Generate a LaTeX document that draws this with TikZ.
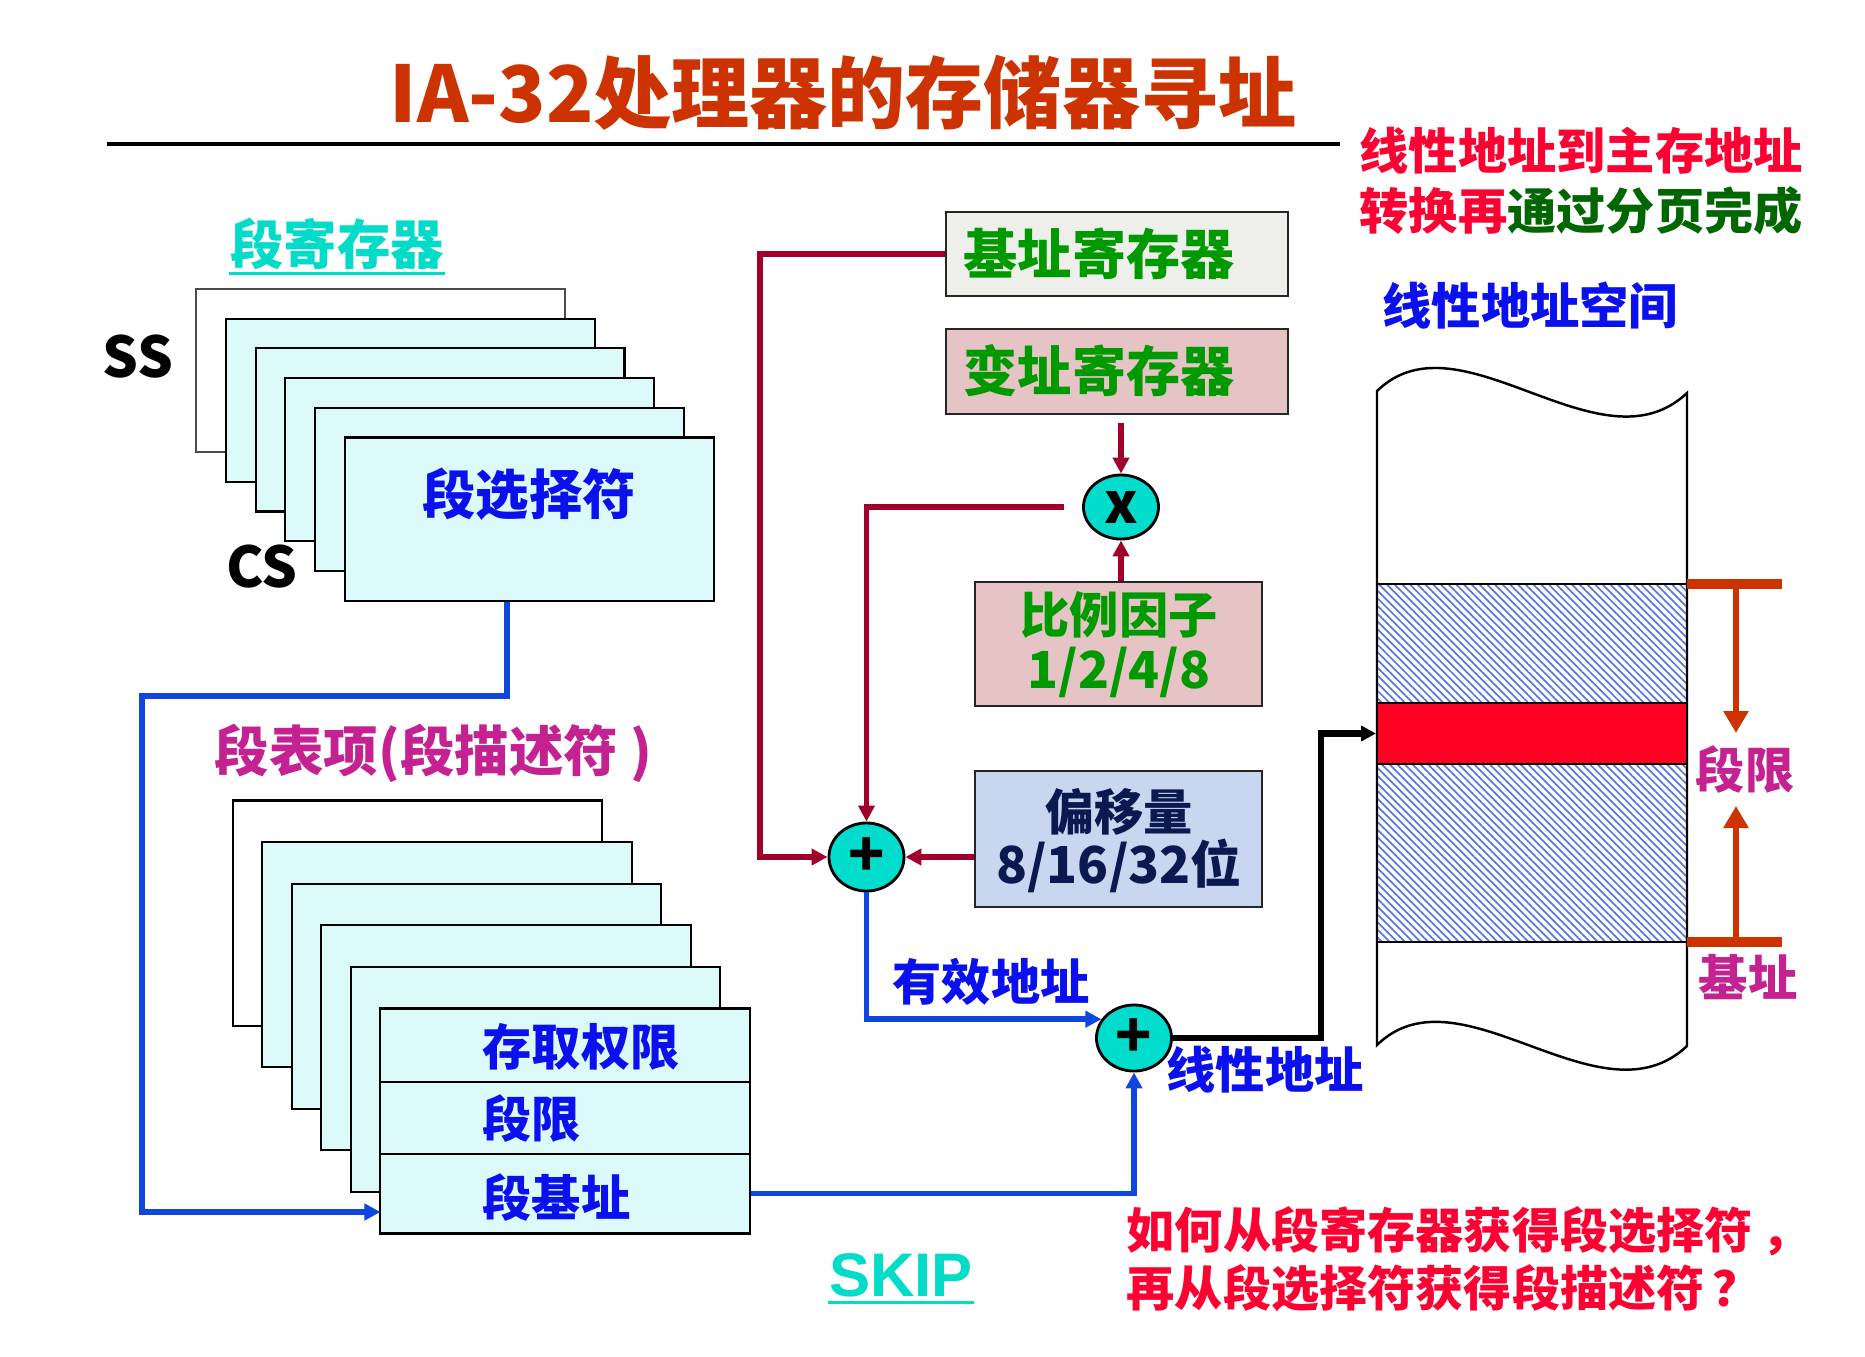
\documentclass[tikz,border=0pt]{standalone}
\usepackage{fontspec}
\setmainfont{Noto Sans CJK SC}
\newfontfamily\latinsf{Liberation Sans}
\usetikzlibrary{arrows.meta,patterns.meta,shapes.geometric}
\definecolor{titlec}{HTML}{CC3300}
\definecolor{notered}{HTML}{FF0033}
\definecolor{notegreen}{HTML}{006600}
\definecolor{cyanc}{HTML}{00DCC8}
\definecolor{regfill}{HTML}{DDFAFA}
\definecolor{bluet}{HTML}{0A10EE}
\definecolor{bluel}{HTML}{1046E0}
\definecolor{magc}{HTML}{C42290}
\definecolor{darkred}{HTML}{A0002A}
\definecolor{greent}{HTML}{009900}
\definecolor{basefill}{HTML}{EEEEEA}
\definecolor{pinkfill}{HTML}{E6C4C6}
\definecolor{offfill}{HTML}{C8D6F0}
\definecolor{offtext}{HTML}{0A1A50}
\definecolor{circfill}{HTML}{00DDCC}
\definecolor{memred}{HTML}{FF0022}
\definecolor{bracketc}{HTML}{CC3300}
\definecolor{hatchc}{HTML}{5A78DE}
\newcommand\fsz[1]{\fontsize{#1}{#1}\selectfont}
\begin{document}
\begin{tikzpicture}[x=0.01cm,y=-0.01cm,
  txt/.style={inner sep=0pt, font=\bfseries},
  regbox/.style={draw=black, line width=0.6pt, fill=regfill, minimum width=3.687cm, minimum height=1.63cm, inner sep=0pt},
  descbox/.style={draw=black, line width=0.6pt, fill=regfill, minimum width=3.69cm, minimum height=2.25cm, inner sep=0pt},
  rowbox/.style={draw=black, line width=0.6pt, fill=regfill, minimum width=3.69cm, inner sep=0pt},
  midbox/.style={draw=black!85, line width=0.7pt, inner sep=0pt},
  circ/.style={ellipse, draw=black, line width=0.8pt, fill=circfill, inner sep=0pt, font=\bfseries\fsz{17}},
  redarr/.style={draw=darkred, line width=1.5pt, -{Triangle[length=0.16cm,width=0.16cm]}},
  bluearr/.style={draw=bluel, line width=1.55pt, -{Triangle[length=0.16cm,width=0.16cm]}},
  blackarr/.style={draw=black, line width=1.9pt, -{Triangle[length=0.15cm,width=0.15cm]}},
  brarr/.style={draw=bracketc, line width=1.6pt, -{Triangle[length=0.22cm,width=0.24cm]}},
  brbar/.style={draw=bracketc, line width=2.6pt},
  hatchbox/.style={draw=black, line width=0.5pt, pattern={Lines[angle=-45,distance=1.55pt,line width=0.5pt]}, pattern color=hatchc}
]
\useasboundingbox[fill=white] (0,0) rectangle (1865,1356);

% title
\node[txt, text=titlec, font=\bfseries\fsz{22.2}] (title) at (843,93) {IA-32处理器的存储器寻址};
\draw[line width=1.2pt] (107,144) -- (1340,144);

% top right note
\node[txt, anchor=west, text=notered, font=\bfseries\fsz{14}] (note1) at (1359,151) {线性地址到主存地址};
\node[txt, anchor=west, text=notered, font=\bfseries\fsz{14}] (note2) at (1359,211) {转换再\textcolor{notegreen}{通过分页完成}};

% segment registers
\node[txt, text=cyanc, font=\bfseries\fsz{15.2}] (segreg) at (337,244) {段寄存器};
\draw[cyanc, line width=1pt] ([yshift=-0.03cm]segreg.south west) -- ([yshift=-0.03cm]segreg.south east);
\node[txt, font=\bfseries\fsz{16}] (ss) at (138,357) {SS};

\node[regbox, fill=white, draw=black!70] (reg0) at (380.65,370.5) {};
\foreach \i in {1,...,5} {
  \node[regbox] (reg\i) at (380.65+29.7*\i,370.5+29.7*\i) {};
}
\node[txt, font=\bfseries\fsz{16}] (cs) at (262,567) {CS};
\node[txt, text=bluet, font=\bfseries\fsz{15.2}] (selt) at (529,494) {段选择符};

% descriptor table
\node[txt, anchor=west, text=magc, font=\bfseries\fsz{15.5}] (desct) at (214,753) {段表项(段描述符 )};
\node[descbox, fill=white] (desc0) at (417.5,913) {};
\foreach \j in {1,...,4} {
  \node[descbox] (desc\j) at (417.5+29.5*\j,913+41.6*\j) {};
}
\node[rowbox, minimum height=0.735cm] (row1) at (565,1045.25) {};
\node[rowbox, minimum height=0.72cm] (row2) at (565,1118) {};
\node[rowbox, minimum height=0.795cm] (row3) at (565,1193.75) {};
\node[txt, anchor=west, text=bluet, font=\bfseries\fsz{14}] (acc) at (482,1047) {存取权限};
\node[txt, anchor=west, text=bluet, font=\bfseries\fsz{14}] (lim) at (482,1118) {段限};
\node[txt, anchor=west, text=bluet, font=\bfseries\fsz{14}] (bas) at (482,1197) {段基址};

% selector -> descriptor
\coordinate (k3) at (142,696);
\coordinate (k4) at (380.5,1212);
\draw[bluearr] ([xshift=-0.22cm]reg5.south) |- (k3) |- (k4);

% middle column
\node[midbox, fill=basefill, minimum width=3.42cm, minimum height=0.84cm] (base) at (1117,254) {};
\node[txt, anchor=west, text=greent, font=\bfseries\fsz{15.4}] (baset) at (963,254) {基址寄存器};
\node[midbox, fill=pinkfill, minimum width=3.42cm, minimum height=0.85cm] (idx) at (1117,371.5) {};
\node[txt, anchor=west, text=greent, font=\bfseries\fsz{15.4}] (idxt) at (963,371) {变址寄存器};
\node[circ, minimum width=0.75cm, minimum height=0.64cm, font=\bfseries\fsz{16}] (mul) at (1121,507) {x};
\node[midbox, fill=pinkfill, minimum width=2.87cm, minimum height=1.24cm] (scale) at (1118.5,644) {};
\node[txt, text=greent, font=\bfseries\fsz{14}] (scale1) at (1119,615) {比例因子};
\node[txt, text=greent, font=\bfseries\fsz{14.5}] (scale2) at (1119,672) {1/2/4/8};
\node[midbox, fill=offfill, minimum width=2.87cm, minimum height=1.36cm] (off) at (1118.5,839) {};
\node[txt, text=offtext, font=\bfseries\fsz{14}] (off1) at (1119,812) {偏移量};
\node[txt, text=offtext, font=\bfseries\fsz{14.5}] (off2) at (1119,866) {8/16/32位};
\node[circ, minimum width=0.75cm, minimum height=0.68cm] (plus1) at (866.5,857) {+};
\node[circ, minimum width=0.75cm, minimum height=0.66cm] (plus2) at (1134,1038) {+};

\draw[redarr, shorten <=0.08cm] (idx.south -| mul.north) -- (mul.north);
\draw[redarr] (scale.north -| mul.south) -- (mul.south);
\coordinate (k1) at (760,857);
\draw[redarr] (base.west) -| (k1) -- (plus1.west);
\draw[redarr] ([xshift=-0.18cm]mul.west) -| (plus1.north);
\draw[redarr] (off.west |- plus1.east) -- (plus1.east);
\draw[bluearr] (plus1.south) |- (plus2.150);
\draw[bluearr] (row3.east) -| (plus2.south);

\node[txt, anchor=west, text=bluet, font=\bfseries\fsz{14}] (eff) at (892,982) {有效地址};
\node[txt, anchor=west, text=bluet, font=\bfseries\fsz{14}] (lin) at (1166,1070) {线性地址};

% memory
\node[txt, anchor=west, text=bluet, font=\bfseries\fsz{14}] (lsp) at (1382,306) {线性地址空间};
\draw[line width=0.7pt, fill=white] (1377,391) .. controls (1460,310) and (1600,475) .. (1687,393) -- (1687,1046) .. controls (1600,1128) and (1460,964) .. (1377,1045) -- cycle;
\path[hatchbox] (1377,584) rectangle (1687,703);
\path[hatchbox] (1377,764) rectangle (1687,942);
\node[draw=black, line width=0.5pt, fill=memred, minimum width=3.1cm, minimum height=0.61cm, inner sep=0pt] (band) at (1532,733.5) {};
\draw[line width=0.7pt] (1377,391) -- (1377,1045);
\draw[line width=0.7pt] (1687,393) -- (1687,1046);

\coordinate (k2) at (1321,0);
\draw[blackarr] (plus2.east) -| (k2 |- band.west) -- (band.west);

% brackets
\draw[brbar] (1687,584) -- (1782,584);
\draw[brbar] (1687,942) -- (1782,942);
\node[txt, text=magc, font=\bfseries\fsz{14}] (limr) at (1745,769) {段限};
\node[txt, text=magc, font=\bfseries\fsz{14}] (basr) at (1748,977) {基址};
\coordinate (bt) at (1736,584);
\coordinate (btend) at (1736,733);
\coordinate (bb) at (1736,942);
\coordinate (bbend) at (1736,806);
\draw[brarr] (bt) -- (btend);
\draw[brarr] (bb) -- (bbend);

% skip
\node[txt, text=cyanc, font=\latinsf\bfseries\fsz{17.5}] (skip) at (901,1275) {SKIP};
\draw[cyanc, line width=1.1pt] ([yshift=-0.05cm]skip.south west) -- ([yshift=-0.05cm]skip.south east);

% bottom question
\node[txt, anchor=west, text=notered, font=\bfseries\fsz{13.7}] (q1) at (1126,1231) {如何从段寄存器获得段选择符\,，};
\node[txt, anchor=west, text=notered, font=\bfseries\fsz{13.7}] (q2) at (1126,1288) {再从段选择符获得段描述符\,？};
\end{tikzpicture}
\end{document}
